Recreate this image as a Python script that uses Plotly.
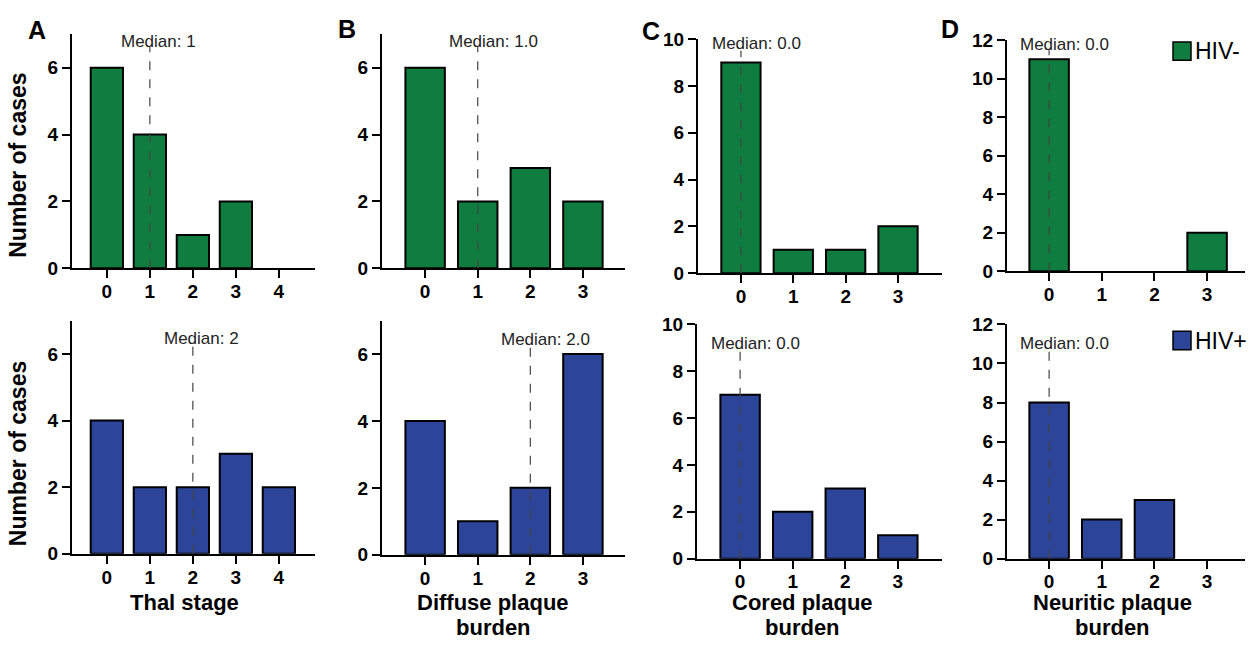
import plotly.graph_objects as go

# ---------------- data ----------------
thal_cats = [0, 1, 2, 3, 4]
thal_hivneg = [6, 4, 1, 2, 0]
thal_hivpos = [4, 2, 2, 3, 2]

diffuse_cats = [0, 1, 2, 3]
diffuse_hivneg = [6, 2, 3, 2]
diffuse_hivpos = [4, 1, 2, 6]

cored_cats = [0, 1, 2, 3]
cored_hivneg = [9, 1, 1, 2]
cored_hivpos = [7, 2, 3, 1]

neuritic_cats = [0, 1, 2, 3]
neuritic_hivneg = [11, 0, 0, 2]
neuritic_hivpos = [8, 2, 3, 0]

medians_hivneg = [1, 1.0, 0.0, 0.0]
medians_hivpos = [2, 2.0, 0.0, 0.0]
median_labels_hivneg = ["Median: 1", "Median: 1.0", "Median: 0.0", "Median: 0.0"]
median_labels_hivpos = ["Median: 2", "Median: 2.0", "Median: 0.0", "Median: 0.0"]

x_titles = [["Thal stage"], ["Diffuse plaque", "burden"], ["Cored plaque", "burden"], ["Neuritic plaque", "burden"]]
y_title = "Number of cases"
y_max = [7, 7, 10, 12]
y_tickvals = [[0, 2, 4, 6], [0, 2, 4, 6], [0, 2, 4, 6, 8, 10], [0, 2, 4, 6, 8, 10, 12]]
panel_letters = ["A", "B", "C", "D"]
groups = ["HIV-", "HIV+"]

cats = [thal_cats, diffuse_cats, cored_cats, neuritic_cats]
vals = [[thal_hivneg, diffuse_hivneg, cored_hivneg, neuritic_hivneg],
        [thal_hivpos, diffuse_hivpos, cored_hivpos, neuritic_hivpos]]
medians = [medians_hivneg, medians_hivpos]
median_labels = [median_labels_hivneg, median_labels_hivpos]

# ---------------- style / layout ----------------
W, H = 1253, 648
FONT = "Liberation Sans, Arial, Helvetica, sans-serif"
colors = ["#0E7D3F", "#2C4599"]
# pixel boxes (left, right, top, bottom) of each plot area
boxes = [
    [(72, 315, 25, 267), (382, 625, 25, 267), (698, 942, 30, 272), (1007, 1245, 31, 270)],
    [(72, 315, 321, 562), (382, 625, 321, 563), (697, 942, 325, 567), (1007, 1245, 325, 567)],
]
x_ranges = [[-0.81, 4.84], [-0.82, 3.8], [-0.82, 3.84], [-0.8, 3.72]]
median_text_y = [[0.967, 0.967, 0.979, 0.98], [0.925, 0.92, 0.92, 0.92]]
median_line_top = [[0.946, 0.946, 0.95, 0.96], [0.89, 0.896, 0.884, 0.884]]

fig = go.Figure()
layout = dict(
    width=W, height=H,
    margin=dict(l=0, r=0, t=0, b=0),
    paper_bgcolor="white", plot_bgcolor="white",
    showlegend=False,
    font=dict(family=FONT, color="black"),
)
shapes = []
annotations = []

n = 0
for r in range(2):
    for c in range(4):
        n += 1
        xa = "x" if n == 1 else f"x{n}"
        ya = "y" if n == 1 else f"y{n}"
        xkey = "xaxis" if n == 1 else f"xaxis{n}"
        ykey = "yaxis" if n == 1 else f"yaxis{n}"
        L, R, T, B = boxes[r][c]
        fig.add_trace(go.Bar(
            x=cats[c], y=vals[r][c], xaxis=xa, yaxis=ya,
            width=0.75, name=groups[r], hoverinfo="x+y",
            marker=dict(color=colors[r],
                        line=dict(color="black", width=[2 if v > 0 else 0 for v in vals[r][c]])),
        ))
        layout[xkey] = dict(
            domain=[L / W, R / W], anchor=ya, range=x_ranges[c],
            tickmode="array", tickvals=cats[c], ticktext=[str(v) for v in cats[c]],
            ticks="outside", ticklen=8, tickwidth=2, tickcolor="black",
            ticklabelstandoff=-3,
            showline=True, linewidth=2, linecolor="black",
            showgrid=False, zeroline=False, fixedrange=True,
            tickfont=dict(family=FONT, size=19, weight="bold", color="black"),
        )
        layout[ykey] = dict(
            domain=[1 - B / H, 1 - T / H], anchor=xa, range=[0, y_max[c]],
            tickmode="array", tickvals=y_tickvals[c],
            ticks="outside", ticklen=8, tickwidth=2, tickcolor="black",
            showline=True, linewidth=2, linecolor="black",
            showgrid=False, zeroline=False, fixedrange=True,
            tickfont=dict(family=FONT, size=19, weight="bold", color="black"),
        )
        # median line and label
        m = medians[r][c]
        shapes.append(dict(type="line", xref=xa, yref=f"{ya} domain",
                           x0=m, x1=m, y0=0, y1=median_line_top[r][c],
                           line=dict(color="#444444", width=1.2, dash="dash"), layer="above"))
        annotations.append(dict(xref=xa, yref=f"{ya} domain", x=m, y=median_text_y[r][c],
                                text=median_labels[r][c], showarrow=False,
                                xanchor="left", yanchor="middle", xshift=-31,
                                font=dict(family=FONT, size=17, color="#222222")))

# x-axis titles (one annotation per line)
x_title_centers = [184, 493, 802, 1112]
line_centers = [612, 638]
for c in range(4):
    for i, line in enumerate(x_titles[c]):
        annotations.append(dict(xref="paper", yref="paper", x=x_title_centers[c] / W,
                                y=1 - line_centers[i] / H,
                                text=line, showarrow=False,
                                xanchor="center", yanchor="middle",
                                font=dict(family=FONT, size=22, weight="bold", color="black")))
# y-axis titles
for yc in [161, 459]:
    annotations.append(dict(xref="paper", yref="paper", x=18 / W, y=1 - yc / H,
                            text=y_title, textangle=-90, showarrow=False,
                            xanchor="center", yanchor="middle",
                            font=dict(family=FONT, size=23, weight="bold", color="black")))
# panel letters
letter_pos = [(37, 21), (347, 20), (651, 22), (950, 20)]
for letter, (lx, ly) in zip(panel_letters, letter_pos):
    annotations.append(dict(xref="paper", yref="paper", x=lx / W, y=1 - ly / H,
                            text=letter, showarrow=False, xanchor="center", yanchor="middle",
                            font=dict(family=FONT, size=25, weight="bold", color="black")))
# legend swatches
legend_pos = [(1173, 1191, 33, 52, 42), (1173, 1191, 332, 351, 342)]
for g, (x0, x1, y0, y1, yc) in enumerate(legend_pos):
    shapes.append(dict(type="rect", xref="paper", yref="paper",
                       x0=x0 / W, x1=x1 / W, y0=1 - y1 / H, y1=1 - y0 / H,
                       fillcolor=colors[g], line=dict(color="black", width=1.5)))
    annotations.append(dict(xref="paper", yref="paper", x=(x1 + 2) / W, y=1 - yc / H,
                            text=groups[g], showarrow=False, xanchor="left", yanchor="middle",
                            font=dict(family=FONT, size=23, color="black")))

layout["shapes"] = shapes
layout["annotations"] = annotations
fig.update_layout(**layout)
fig.write_html("out.html", config={"displayModeBar": False},
               post_script="document.body.style.margin='0';document.body.style.overflow='hidden';")
